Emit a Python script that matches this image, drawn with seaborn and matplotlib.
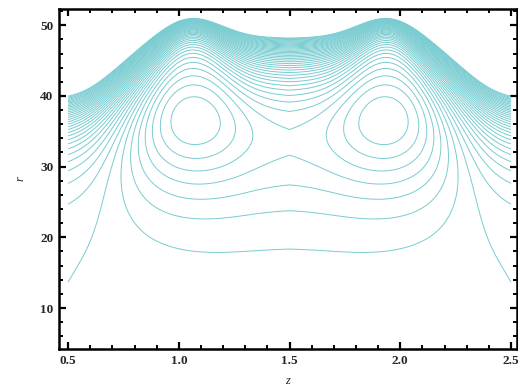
import numpy as np
import matplotlib
matplotlib.use("Agg")
import matplotlib.pyplot as plt
import seaborn as sns
from matplotlib.ticker import MultipleLocator, FormatStrFormatter

# ---- chart values ----
Z_RANGE = [0.5, 2.5]          # computed domain in z
R_RANGE = [4.2, 52.3]         # computed domain in r
X_LIM = [0.459, 2.527]
Y_LIM = [4.2, 52.3]
X_TICKS = [0.5, 1.0, 1.5, 2.0, 2.5]
Y_TICKS = [10, 20, 30, 40, 50]
CONTOUR_LEVELS = list(range(-35, 4))   # contour values drawn

# field shape parameters
CENTER_Z = 1.5
PEAK_DZ = 0.45                 # O-points at z = 1.05 and 1.95
BASE = [-3.5, 0.4]             # baseline level and its fall-off towards the z edges
HILL = [4.41, 0.76, 36.5, 8.7] # amplitude, z half-width, r centre, r width
BUMP = [1.2, 0.2]              # extra z bumps under the O-points
O_PEAK = [2.0, 0.16, 36.8, 5.0]  # amplitude, z width, r centre, r width
ENVELOPE = [40.0, 8.2, 0.82, 3.0, 0.2]  # top boundary shape
WALL = [33.5, 3.7, 0.9, 1.88]  # wall amplitude, decay length params

sns.set_style("ticks")
plt.rcParams["font.family"] = ["Liberation Serif", "DejaVu Serif"]

z = np.linspace(Z_RANGE[0], Z_RANGE[1], 1201)
r = np.linspace(R_RANGE[0], R_RANGE[1], 1201)
Z, R = np.meshgrid(z, r)
d = np.abs(Z - CENTER_Z)

e2 = np.exp(-((d - PEAK_DZ) / ENVELOPE[4]) ** 2)
h = ENVELOPE[0] + ENVELOPE[1] * np.exp(-(d / ENVELOPE[2]) ** 6) + ENVELOPE[3] * e2
lam = WALL[1] + WALL[2] * d ** 2 - WALL[3] * e2

base = BASE[0] - BASE[1] * d ** 2
zp = HILL[0] * np.exp(-(d / HILL[1]) ** 6) + BUMP[0] * np.exp(-(d - PEAK_DZ) ** 2 / (2 * BUMP[1] ** 2))
rp = np.exp(-(R - HILL[2]) ** 2 / (2 * HILL[3] ** 2))
npk = O_PEAK[0] * np.exp(-(d - PEAK_DZ) ** 2 / (2 * O_PEAK[1] ** 2)) * np.exp(-(R - O_PEAK[2]) ** 2 / (2 * O_PEAK[3] ** 2))
wall = -WALL[0] * np.exp((R - h) / lam)
F = base + zp * rp + npk + wall

fig = plt.figure(figsize=(5.18, 3.87), dpi=100)
ax = fig.add_axes([59 / 518, 38 / 387, 458 / 518, 340 / 387])
ax.contour(Z, R, F, levels=CONTOUR_LEVELS, colors="#78ccd1", linewidths=0.7, linestyles="solid")

ax.set_xlim(*X_LIM)
ax.set_ylim(*Y_LIM)
ax.set_xticks(X_TICKS)
ax.set_yticks(Y_TICKS)
ax.xaxis.set_major_formatter(FormatStrFormatter("%.1f"))
ax.yaxis.set_major_formatter(FormatStrFormatter("%d"))
ax.xaxis.set_minor_locator(MultipleLocator(0.1))
ax.yaxis.set_minor_locator(MultipleLocator(2))
ax.tick_params(which="both", direction="in", top=True, right=True, color="black")
ax.tick_params(which="major", length=5, width=1.6, labelsize=9.5, pad=4)
ax.tick_params(which="minor", length=3, width=1.4)
for lab in ax.get_xticklabels() + ax.get_yticklabels():
    lab.set_fontweight("bold")
for s in ax.spines.values():
    s.set_linewidth(1.8)
    s.set_color("black")
ax.set_xlabel("z", fontstyle="italic", fontsize=9, labelpad=6)
ax.set_ylabel("r", fontstyle="italic", fontsize=9, labelpad=10)

fig.savefig("out.png", dpi=100)
